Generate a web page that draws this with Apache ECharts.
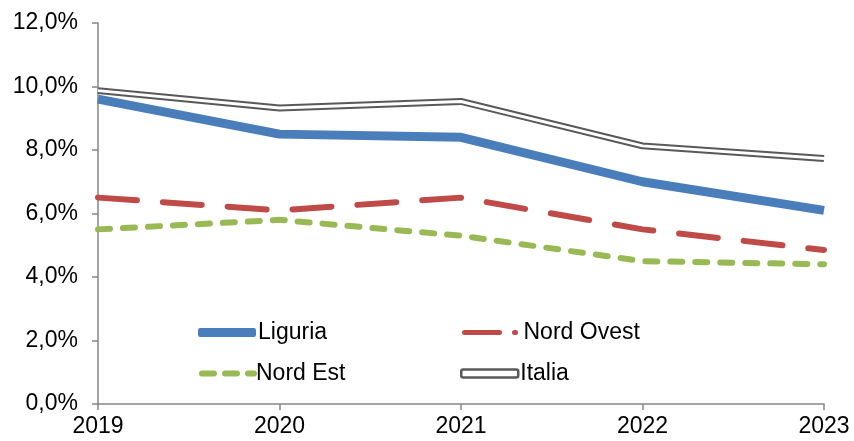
<!DOCTYPE html>
<html><head><meta charset="utf-8">
<script src="https://cdn.jsdelivr.net/npm/echarts@6/dist/echarts.min.js"></script>
<style>html,body{margin:0;padding:0;background:#fff}#c{width:854px;height:441px}</style>
</head><body><div id="c"></div>
<script>
var years = ['2019','2020','2021','2022','2023'];
var liguria = [9.6, 8.5, 8.4, 7.0, 6.1];
var nordOvest = [6.5, 6.1, 6.5, 5.5, 4.85];
var nordEst = [5.5, 5.8, 5.3, 4.5, 4.4];
var italia = [9.87, 9.32, 9.53, 8.13, 7.73];
var yTicks = [0, 2, 4, 6, 8, 10, 12];

var FONT = 'Liberation Sans, Arial, sans-serif';
var FS = 23;
var chart = echarts.init(document.getElementById('c'));
function lg(name, left, top, w, h, extra, padLeft) {
  return {
    data: [Object.assign({name: name}, extra || {})],
    left: left, top: top, padding: 0, itemWidth: w, itemHeight: h,
    itemGap: 0, selectedMode: false,
    textStyle: {fontFamily: FONT, fontSize: FS, color: '#000', padding: [0,0,0,padLeft == null ? -3 : padLeft]}
  };
}
chart.setOption({
  animation: false,
  grid: {left: 98, right: 30, top: 23, bottom: 37},
  legend: [
    lg('Liguria', 198, 321, 58, 9, {icon: 'roundRect', itemStyle: {color: '#4A7EBB', borderWidth: 0}}),
    lg('Nord Ovest', 462, 321, 51, 6, {lineStyle: {width: 5, type: [35, 15], cap: 'round', color: '#BE4B48'}, itemStyle: {opacity: 0}}, 3),
    lg('Nord Est', 199, 362, 52, 6, {lineStyle: {width: 6, type: [12, 11], cap: 'round', color: '#98B954'}, itemStyle: {opacity: 0}}),
    lg('Italia', 460, 362, 57, 8, {icon: 'roundRect', itemStyle: {color: '#fff', borderColor: '#595959', borderWidth: 2.5}})
  ],
  xAxis: {
    type: 'category', data: years, boundaryGap: false,
    axisLine: {lineStyle: {color: '#868686', width: 1.5}},
    axisTick: {show: true, length: 6, lineStyle: {color: '#868686', width: 1.5}},
    axisLabel: {color: '#000', fontFamily: FONT, fontSize: FS, margin: 11,
      showMinLabel: true, showMaxLabel: true},
    splitLine: {show: false}
  },
  yAxis: {
    type: 'value', min: 0, max: 12, interval: 2,
    axisLine: {show: true, lineStyle: {color: '#868686', width: 1.5}},
    axisTick: {show: true, length: 6, lineStyle: {color: '#868686', width: 1.5}},
    axisLabel: {color: '#000', fontFamily: FONT, fontSize: FS, margin: 20,
      formatter: function (v) { return v.toFixed(1).replace('.', ',') + '%'; }},
    splitLine: {show: false}
  },
  series: [
    {name: 'Italia', type: 'line', data: italia, symbol: 'none', z: 2,
      lineStyle: {color: '#595959', width: 7}, itemStyle: {color: '#595959'}},
    {name: 'Italia_inner', type: 'line', data: italia, symbol: 'none', z: 3,
      lineStyle: {color: '#ffffff', width: 3}},
    {name: 'Liguria', type: 'line', data: liguria, symbol: 'none', z: 4,
      lineStyle: {color: '#4A7EBB', width: 9}, itemStyle: {color: '#4A7EBB'}},
    {name: 'Nord Ovest', type: 'line', data: nordOvest, symbol: 'none', z: 4,
      lineStyle: {color: '#BE4B48', width: 6, type: [39, 26], cap: 'round'}, itemStyle: {color: '#BE4B48'}},
    {name: 'Nord Est', type: 'line', data: nordEst, symbol: 'none', z: 4,
      lineStyle: {color: '#98B954', width: 6, type: [12, 13], cap: 'round'}, itemStyle: {color: '#98B954'}}
  ]
});
</script></body></html>
